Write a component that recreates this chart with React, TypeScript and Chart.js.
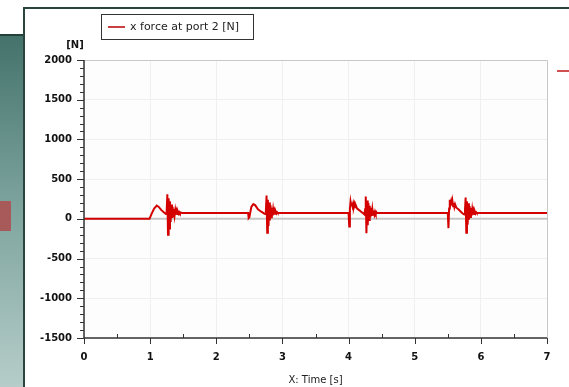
import React, { useEffect, useRef } from "react";
import { Chart, registerables } from "chart.js";

Chart.register(...registerables);

// ---- data (time in s, force in N) ----
const restTime = [0, 0.99];
const restForce = [0, 0];

const event1Time = [1.02, 1.06, 1.1, 1.13, 1.17, 1.21, 1.24, 1.25, 1.26, 1.27, 1.28, 1.29, 1.3, 1.31, 1.32, 1.33, 1.34, 1.35, 1.36, 1.37, 1.38, 1.39, 1.4, 1.41, 1.42, 1.43, 1.44, 1.45, 1.46, 1.48];
const event1Force = [60, 130, 168, 150, 110, 80, 60, 100, 310, -200, 260, -120, 220, -40, 180, 10, 150, 30, 125, 45, 110, 55, 98, 62, 90, 67, 84, 70, 80, 75];

const event2Time = [2.48, 2.49, 2.5, 2.53, 2.56, 2.59, 2.63, 2.68, 2.72, 2.74, 2.75, 2.76, 2.77, 2.78, 2.79, 2.8, 2.81, 2.82, 2.83, 2.84, 2.85, 2.86, 2.87, 2.88, 2.89, 2.9, 2.91, 2.92, 2.93, 2.95];
const event2Force = [75, 10, 20, 150, 185, 170, 120, 90, 70, 60, 100, 293, -176, 240, -90, 205, -20, 170, 20, 140, 40, 118, 55, 100, 63, 90, 68, 83, 72, 75];

const event3Time = [4.0, 4.01, 4.02, 4.03, 4.04, 4.05, 4.06, 4.07, 4.08, 4.09, 4.1, 4.11, 4.13, 4.16, 4.19, 4.22, 4.24, 4.25, 4.26, 4.27, 4.28, 4.29, 4.3, 4.31, 4.32, 4.33, 4.34, 4.35, 4.36, 4.37, 4.38, 4.39, 4.4, 4.41, 4.42, 4.43, 4.45];
const event3Force = [75, -97, 120, 218, 170, 205, 160, 195, 150, 185, 145, 170, 130, 110, 90, 70, 55, 120, 281, -180, 230, -80, 200, -15, 165, 20, 140, 38, 120, 52, 104, 60, 92, 66, 84, 71, 75];

const event4Time = [5.5, 5.51, 5.52, 5.53, 5.54, 5.55, 5.56, 5.57, 5.58, 5.59, 5.6, 5.61, 5.63, 5.66, 5.69, 5.72, 5.75, 5.76, 5.77, 5.78, 5.79, 5.8, 5.81, 5.82, 5.83, 5.84, 5.85, 5.86, 5.87, 5.88, 5.89, 5.9, 5.91, 5.92, 5.93, 5.94, 5.96];
const event4Force = [75, -117, 130, 240, 180, 220, 170, 225, 160, 200, 150, 185, 140, 120, 95, 70, 55, 110, 268, -176, 220, -75, 195, -10, 160, 22, 138, 40, 118, 54, 102, 61, 91, 67, 83, 72, 75];

const endTime = [7.0];
const endForce = [75];

const xTicks = [0, 1, 2, 3, 4, 5, 6, 7];
const yTicks = [-1500, -1000, -500, 0, 500, 1000, 1500, 2000];

const seriesLabel = "x force at port 2 [N]";
const yUnit = "[N]";
const xTitle = "X: Time [s]";

const FONT = "DejaVu Sans";

function buildPoints() {
  const ts = [...restTime, ...event1Time, ...event2Time, ...event3Time, ...event4Time, ...endTime];
  const fs = [...restForce, ...event1Force, ...event2Force, ...event3Force, ...event4Force, ...endForce];
  return ts.map((t, i) => ({ x: t, y: fs[i] }));
}

const decorPlugin = {
  id: "decor",
  beforeDraw(chart: any) {
    const ctx = chart.ctx;
    const W = chart.width;
    const H = chart.height;
    ctx.save();
    ctx.fillStyle = "#ffffff";
    ctx.fillRect(0, 0, W, H);
    // background slide on the left
    const g = ctx.createLinearGradient(0, 36, 0, H);
    g.addColorStop(0, "#44736c");
    g.addColorStop(0.5, "#7fa59f");
    g.addColorStop(1, "#b6cdc9");
    ctx.fillStyle = g;
    ctx.fillRect(0, 36, 24, H - 36);
    ctx.fillStyle = "#24403b";
    ctx.fillRect(0, 34, 24, 2);
    ctx.fillStyle = "#a85a5a";
    ctx.fillRect(0, 201, 11, 30);
    // panel border
    ctx.fillStyle = "#2a4440";
    ctx.fillRect(24, 7, W - 24, 2);
    ctx.fillRect(23, 7, 2, H - 7);
    // plot area background
    const a = chart.chartArea;
    ctx.fillStyle = "#fdfdfd";
    ctx.fillRect(a.left, a.top, a.right - a.left, a.bottom - a.top);
    ctx.restore();
  },
  beforeDatasetsDraw(chart: any) {
    const ctx = chart.ctx;
    const a = chart.chartArea;
    const y0 = chart.scales.y.getPixelForValue(0);
    ctx.save();
    ctx.strokeStyle = "#c6c6c6";
    ctx.lineWidth = 2;
    ctx.beginPath();
    ctx.moveTo(a.left, y0);
    ctx.lineTo(a.right, y0);
    ctx.stroke();
    ctx.restore();
  },
  afterDraw(chart: any) {
    const ctx = chart.ctx;
    const a = chart.chartArea;
    const xs = chart.scales.x;
    const ys = chart.scales.y;
    ctx.save();
    // plot frame top/right light
    ctx.strokeStyle = "#c8c8c8";
    ctx.lineWidth = 1;
    ctx.beginPath();
    ctx.moveTo(a.left, a.top + 0.5);
    ctx.lineTo(a.right + 0.5, a.top + 0.5);
    ctx.lineTo(a.right + 0.5, a.bottom);
    ctx.stroke();
    // axes
    ctx.strokeStyle = "#333333";
    ctx.lineWidth = 1.5;
    ctx.beginPath();
    ctx.moveTo(a.left, a.top);
    ctx.lineTo(a.left, a.bottom);
    ctx.lineTo(a.right, a.bottom);
    ctx.stroke();
    ctx.lineWidth = 1;
    // y ticks
    ctx.beginPath();
    for (let v = -1500; v <= 2000; v += 100) {
      const py = Math.round(ys.getPixelForValue(v)) + 0.5;
      const major = v % 500 === 0;
      ctx.moveTo(a.left - (major ? 7 : 4), py);
      ctx.lineTo(a.left, py);
    }
    // x ticks
    for (let k = 0; k <= 14; k++) {
      const v = k * 0.5;
      const px = Math.round(xs.getPixelForValue(v)) + 0.5;
      if (k % 2 === 0) {
        ctx.moveTo(px, a.bottom);
        ctx.lineTo(px, a.bottom + 6);
      } else {
        ctx.moveTo(px, a.bottom - 4);
        ctx.lineTo(px, a.bottom);
      }
    }
    ctx.stroke();
    // unit label
    ctx.fillStyle = "#111111";
    ctx.font = `bold 10px "${FONT}"`;
    ctx.textAlign = "center";
    ctx.textBaseline = "middle";
    ctx.fillText(yUnit, 75, 45);
    // x title
    ctx.font = `10px "${FONT}"`;
    ctx.fillStyle = "#222222";
    ctx.fillText(xTitle, (a.left + a.right) / 2, 380);
    // legend box
    ctx.strokeStyle = "#333333";
    ctx.lineWidth = 1;
    ctx.strokeRect(101.5, 14.5, 152, 25);
    ctx.strokeStyle = "#c84040";
    ctx.lineWidth = 2;
    ctx.beginPath();
    ctx.moveTo(108, 27);
    ctx.lineTo(125, 27);
    ctx.stroke();
    ctx.fillStyle = "#222222";
    ctx.font = `11px "${FONT}"`;
    ctx.textAlign = "left";
    ctx.fillText(seriesLabel, 130, 27);
    // second legend fragment at right edge
    ctx.strokeStyle = "#d05050";
    ctx.beginPath();
    ctx.moveTo(557, 71);
    ctx.lineTo(569, 71);
    ctx.stroke();
    ctx.restore();
  },
};

export default function App() {
  const ref = useRef<HTMLCanvasElement | null>(null);
  useEffect(() => {
    document.body.style.margin = "0";
    const canvas = ref.current;
    if (!canvas) return;
    const chart = new Chart(canvas, {
      type: "line",
      data: {
        datasets: [
          {
            label: seriesLabel,
            data: buildPoints(),
            borderColor: "#d40000",
            borderWidth: 2,
            pointRadius: 0,
            tension: 0,
            fill: false,
          },
        ],
      },
      options: {
        animation: false,
        responsive: false,
        devicePixelRatio: 1,
        layout: { padding: { top: 60, right: 22, left: 0, bottom: 0 } },
        plugins: { legend: { display: false }, tooltip: { enabled: false } },
        scales: {
          x: {
            type: "linear",
            min: 0,
            max: 7,
            afterBuildTicks: (s: any) => {
              s.ticks = xTicks.map((v) => ({ value: v }));
            },
            afterFit: (s: any) => {
              s.height = 49;
            },
            border: { display: false },
            grid: { color: "#f0f0f0", drawTicks: false, lineWidth: 1 },
            ticks: {
              padding: 13,
              color: "#111111",
              font: { family: FONT, size: 10, weight: "bold" },
              maxRotation: 0,
              callback: (v: any) => String(v),
            },
          },
          y: {
            type: "linear",
            min: -1500,
            max: 2000,
            afterBuildTicks: (s: any) => {
              s.ticks = yTicks.map((v) => ({ value: v }));
            },
            afterFit: (s: any) => {
              s.width = 84;
            },
            border: { display: false },
            grid: { color: "#f0f0f0", drawTicks: false, lineWidth: 1 },
            ticks: {
              padding: 12,
              color: "#111111",
              font: { family: FONT, size: 10, weight: "bold" },
              callback: (v: any) => String(v),
            },
          },
        },
      } as any,
      plugins: [decorPlugin],
    });
    return () => chart.destroy();
  }, []);
  return (
    <div style={{ position: "fixed", left: 0, top: 0, width: 569, height: 387 }}>
      <canvas ref={ref} width={569} height={387} style={{ width: 569, height: 387, display: "block" }} />
    </div>
  );
}
